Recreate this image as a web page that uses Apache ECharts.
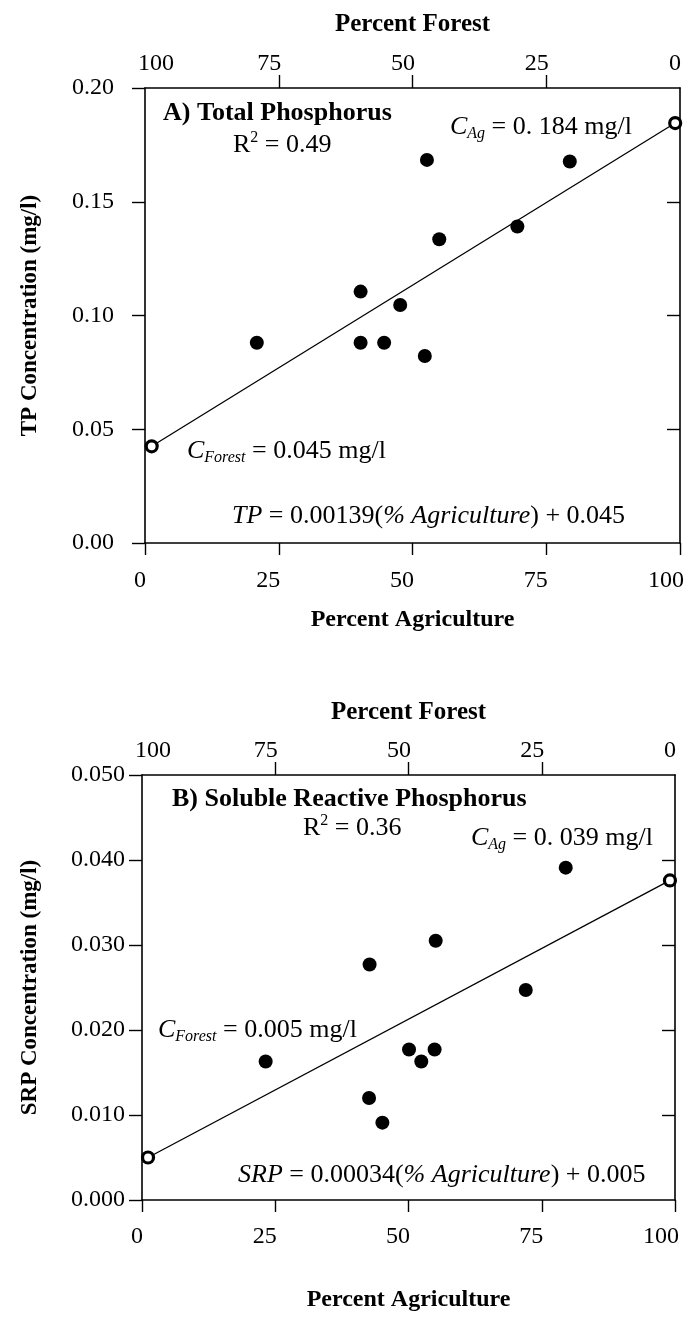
<!DOCTYPE html>
<html>
<head>
<meta charset="utf-8">
<script src="https://cdn.jsdelivr.net/npm/echarts@6/dist/echarts.min.js"></script>
<style>
html,body{margin:0;padding:0;background:#fff;}
#chart{width:696px;height:1324px;}
</style>
</head>
<body>
<div id="chart"></div>
<script>
// ---------- data ----------
const agriTicks = [0, 25, 50, 75, 100];
const forestTicks = [0, 25, 50, 75, 100];
const tpTicks = [0, 0.05, 0.10, 0.15, 0.20];
const srpTicks = [0, 0.01, 0.02, 0.03, 0.04, 0.05];

// Panel A: Total Phosphorus
const agriA = [20.9, 40.3, 40.3, 44.7, 47.7, 52.3, 52.7, 55.0, 69.6, 79.4];
const tpA   = [0.0880, 0.1105, 0.0880, 0.0880, 0.1046, 0.0822, 0.1684, 0.1335, 0.1391, 0.1677];
const endAgriA = [1.25, 99.1];
const endTpA   = [0.0425, 0.1846];

// Panel B: Soluble Reactive Phosphorus
const agriB = [23.2, 42.7, 42.6, 45.1, 50.1, 52.4, 54.9, 55.1, 72.0, 79.5];
const srpB  = [0.0163, 0.0277, 0.0120, 0.0091, 0.0177, 0.0163, 0.0177, 0.0305, 0.0247, 0.0391];
const endAgriB = [1.13, 99.05];
const endSrpB  = [0.0050, 0.0376];

// ---------- styling ----------
const FONT = '"Liberation Serif", "Times New Roman", serif';
const BLACK = '#000';
const TICKF = 24;

function pts(xs, ys) { return xs.map((x, i) => [x, ys[i]]); }

function lblRich(pads) {
  const r = {};
  Object.keys(pads).forEach(k => {
    r[k] = { fontFamily: FONT, fontSize: TICKF, color: BLACK, padding: pads[k] };
  });
  return r;
}

function bottomAxis(gi, margin, nameGap) {
  return {
    type: 'value', gridIndex: gi, position: 'bottom', min: 0, max: 100, interval: 25,
    name: 'Percent Agriculture', nameLocation: 'middle', nameGap: nameGap,
    nameTextStyle: { fontFamily: FONT, fontWeight: 'bold', fontSize: 24, color: BLACK },
    axisLine: { onZero: false, lineStyle: { color: BLACK, width: 1.6 } },
    axisTick: { show: true, inside: false, length: 12, customValues: agriTicks, lineStyle: { color: BLACK, width: 1.4 } },
    axisLabel: {
      margin: margin, customValues: agriTicks,
      formatter: v => '{' + (v === 0 ? 'a' : (v === 100 ? 'c' : 'b')) + '|' + v + '}',
      rich: lblRich({ a: [0, 10, 0, 0], b: [0, 21, 0, 0], c: [0, 28, 0, 0] })
    },
    splitLine: { show: false }
  };
}

function topAxis(gi, nameGap) {
  return {
    type: 'value', gridIndex: gi, position: 'top', inverse: true, min: 0, max: 100, interval: 25,
    name: 'Percent Forest', nameLocation: 'middle', nameGap: nameGap,
    nameTextStyle: { fontFamily: FONT, fontWeight: 'bold', fontSize: 25, color: BLACK },
    axisLine: { onZero: false, lineStyle: { color: BLACK, width: 1.6 } },
    axisTick: { show: true, inside: false, length: 13, customValues: [25, 50, 75], lineStyle: { color: BLACK, width: 1.4 } },
    axisLabel: {
      margin: 12, customValues: forestTicks,
      formatter: v => '{' + (v === 100 ? 'r' : (v === 0 ? 'z' : 'l')) + '|' + v + '}',
      rich: lblRich({ l: [0, 19, 0, 0], r: [0, 0, 0, 22], z: [0, 10, 0, 0] })
    },
    splitLine: { show: false }
  };
}

function leftAxis(gi, max, interval, dec, ticks, margin, name, nameGap) {
  return {
    type: 'value', gridIndex: gi, position: 'left', min: 0, max: max, interval: interval,
    name: name, nameLocation: 'middle', nameGap: nameGap,
    nameTextStyle: { fontFamily: FONT, fontWeight: 'bold', fontSize: 23, color: BLACK },
    axisLine: { show: true, onZero: false, lineStyle: { color: BLACK, width: 1.6 } },
    axisTick: { show: true, inside: false, length: 13, lineStyle: { color: BLACK, width: 1.4 } },
    axisLabel: {
      margin: margin, customValues: ticks, fontFamily: FONT, fontSize: TICKF, color: BLACK,
      formatter: v => v.toFixed(dec)
    },
    splitLine: { show: false }
  };
}

function rightAxis(gi, max, interval, inner) {
  return {
    type: 'value', gridIndex: gi, position: 'right', min: 0, max: max, interval: interval,
    axisLine: { show: true, onZero: false, lineStyle: { color: BLACK, width: 1.6 } },
    axisTick: { show: true, inside: true, length: 13, customValues: inner, lineStyle: { color: BLACK, width: 1.4 } },
    axisLabel: { show: false },
    splitLine: { show: false }
  };
}

function seriesFor(xi, yi, xs, ys, ex, ey) {
  return [
    {
      type: 'line', xAxisIndex: xi, yAxisIndex: yi, data: pts(ex, ey), symbol: 'none',
      lineStyle: { color: BLACK, width: 1.3 }, silent: true, z: 2
    },
    {
      type: 'scatter', xAxisIndex: xi, yAxisIndex: yi, data: pts(xs, ys), symbol: 'circle', symbolSize: 14,
      itemStyle: { color: BLACK, opacity: 1 }, z: 3
    },
    {
      type: 'scatter', xAxisIndex: xi, yAxisIndex: yi, data: pts(ex, ey), symbol: 'circle', symbolSize: 11,
      itemStyle: { color: '#fff', borderColor: BLACK, borderWidth: 3.2, opacity: 1 }, z: 4
    }
  ];
}

// rich text styles for annotations
const AF = 26;
const richBase = {
  n:  { fontFamily: FONT, fontSize: AF, lineHeight: 30, fill: BLACK, verticalAlign: 'middle' },
  i:  { fontFamily: FONT, fontSize: AF, lineHeight: 30, fill: BLACK, fontStyle: 'italic', verticalAlign: 'middle' },
  b:  { fontFamily: FONT, fontSize: AF, lineHeight: 30, fill: BLACK, fontWeight: 'bold', verticalAlign: 'middle' },
  sub:{ fontFamily: FONT, fontSize: 16, lineHeight: 16, fill: BLACK, fontStyle: 'italic', verticalAlign: 'bottom' },
  sup:{ fontFamily: FONT, fontSize: 16, lineHeight: 16, fill: BLACK, verticalAlign: 'top' }
};
function txt(x, y, text) {
  return {
    type: 'text', x: x, y: y, z: 10, silent: true,
    style: { text: text, rich: richBase, fill: BLACK, font: AF + 'px ' + FONT, align: 'left', verticalAlign: 'middle' }
  };
}

const option = {
  backgroundColor: '#fff',
  animation: false,
  grid: [
    { left: 145, top: 88, width: 535, height: 455, containLabel: false },
    { left: 142, top: 775, width: 533, height: 425, containLabel: false }
  ],
  xAxis: [
    bottomAxis(0, 26, 65),
    topAxis(0, 51),
    bottomAxis(1, 25, 88),
    topAxis(1, 50)
  ],
  yAxis: [
    leftAxis(0, 0.20, 0.05, 2, tpTicks, 31, 'TP Concentration (mg/l)', 103),
    rightAxis(0, 0.20, 0.05, [0.05, 0.10, 0.15]),
    leftAxis(1, 0.05, 0.01, 3, srpTicks, 17, 'SRP Concentration (mg/l)', 100),
    rightAxis(1, 0.05, 0.01, [0.01, 0.02, 0.03, 0.04])
  ],
  series: [].concat(
    seriesFor(0, 0, agriA, tpA, endAgriA, endTpA),
    seriesFor(2, 2, agriB, srpB, endAgriB, endSrpB)
  ),
  graphic: [
    txt(163, 113, '{b|A) Total Phosphorus}'),
    txt(233, 145, '{n|R}{sup|2}{n| = 0.49}'),
    txt(450, 127, '{i|C}{sub|Ag}{n| = 0. 184 mg/l}'),
    txt(187, 451, '{i|C}{sub|Forest}{n| = 0.045 mg/l}'),
    txt(232, 516, '{i|TP}{n| = 0.00139(}{i|% Agriculture}{n|) + 0.045}'),
    txt(172, 799, '{b|B) Soluble Reactive Phosphorus}'),
    txt(303, 828, '{n|R}{sup|2}{n| = 0.36}'),
    txt(471, 838, '{i|C}{sub|Ag}{n| = 0. 039 mg/l}'),
    txt(158, 1030, '{i|C}{sub|Forest}{n| = 0.005 mg/l}'),
    txt(238, 1175, '{i|SRP}{n| = 0.00034(}{i|% Agriculture}{n|) + 0.005}')
  ]
};

const chart = echarts.init(document.getElementById('chart'), null, { renderer: 'canvas' });
chart.setOption(option);
</script>
</body>
</html>
